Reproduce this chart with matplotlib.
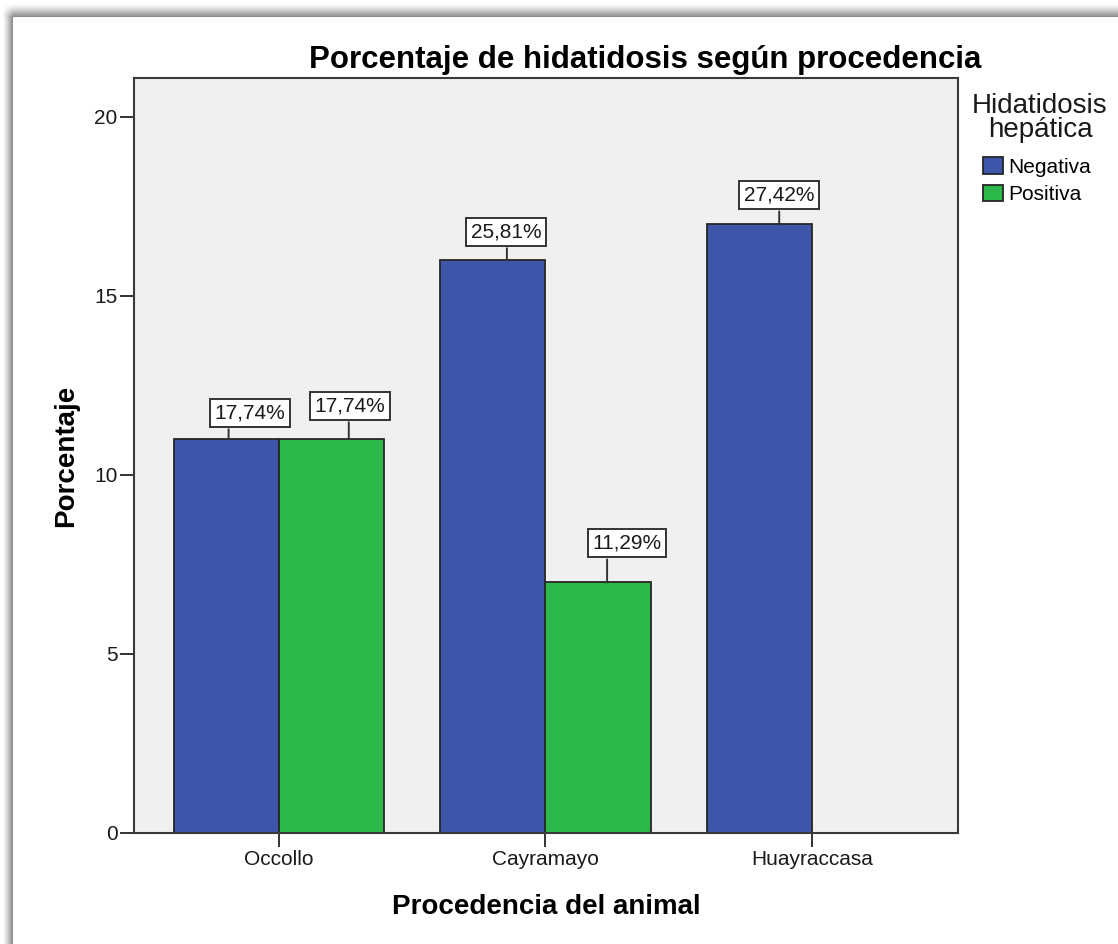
#Program to draw a grouped bar chart of hydatidosis by animal origin.
import numpy as np
import matplotlib.pyplot as plt
from matplotlib.patches import Patch

#Categories and counts for each liver result.
procedencias = ['Occollo', 'Cayramayo', 'Huayraccasa']
negativa = [11, 16, 17]
positiva = [11, 7, 0]
series_names = ['Negativa', 'Positiva']
y_ticks = [0, 5, 10, 15, 20]

#Label placement in pixels: line offset, box offset and box height above the bar.
label_line_dx = [[2, 17], [14, 9], [20, 0]]
label_box_dx = [[23, 18], [13, 29], [20, 0]]
label_box_dy = [26, 33, 28, 39, 29]

BLUE = '#3d56a9'
GREEN = '#2db84a'
EDGE = '#262626'


def shadow_background(width, height):
    """Grey blurred shadow along the top and left edges of the panel."""
    ys = np.arange(height)[:, None].astype(float)
    xs = np.arange(width)[None, :].astype(float)
    top = np.clip((ys - 3) / 14, 0, 1) ** 1.3 * (ys < 17) * np.clip((xs - 2) / 11, 0, 1)
    left = np.clip((xs - 2) / 11, 0, 1) ** 1.3 * (xs < 13) * np.clip((ys - 6) / 11, 0, 1)
    shade = np.maximum(top, left)
    return 1 - 0.5 * shade


def main():
    """Mainline logic for creating the bar chart."""
    plt.rcParams['font.family'] = ['Liberation Sans', 'DejaVu Sans']
    fig = plt.figure(figsize=(11.18, 9.44), dpi=100)

    #Shadowed frame behind the chart.
    bg = fig.add_axes([0, 0, 1, 1], zorder=-1)
    bg.imshow(shadow_background(1118, 944), cmap='gray', vmin=0, vmax=1,
              aspect='auto', interpolation='bilinear')
    bg.axis('off')

    ax = fig.add_axes([0.1199, 0.1176, 0.737, 0.7998])
    ax.set_facecolor('#f0f0f0')

    x = np.arange(len(procedencias))
    width = 0.395
    xmin, xmax = -0.545, 2.549
    px_per_unit = 824 / (xmax - xmin)
    total = sum(negativa) + sum(positiva)

    bars_neg = ax.bar(x - width / 2, negativa, width, color=BLUE,
                      edgecolor=EDGE, linewidth=1.3, zorder=2)
    bars_pos = ax.bar(x + width / 2, positiva, width, color=GREEN,
                      edgecolor=EDGE, linewidth=1.3, zorder=2)

    #Percentage labels with a short leader line down to each bar.
    k = 0
    for i in range(len(procedencias)):
        for j, bars in enumerate([bars_neg, bars_pos]):
            bar = bars[i]
            value = bar.get_height()
            if value == 0:
                continue
            pct = f'{value / total * 100:.2f}%'.replace('.', ',')
            bx = bar.get_x() + bar.get_width() / 2
            lx = bx + label_line_dx[i][j] / px_per_unit
            box_dx = label_box_dx[i][j] - label_line_dx[i][j]
            dy = label_box_dy[k]
            k += 1
            ax.annotate('', xy=(lx, value), xytext=(0, (dy - 16) * 0.72),
                        textcoords='offset points',
                        arrowprops=dict(arrowstyle='-', color='#333333', lw=1.4,
                                        shrinkA=0, shrinkB=0), zorder=3)
            ax.annotate(pct, xy=(lx, value), xytext=(box_dx * 0.72, dy * 0.72),
                        textcoords='offset points', ha='center', va='center',
                        fontsize=15, color='#1a1a1a', zorder=4,
                        bbox=dict(boxstyle='square,pad=0.22', fc='white',
                                  ec='#333333', lw=1.4))

    ax.set_xlim(xmin, xmax)
    ax.set_ylim(0, 21.09)
    ax.set_xticks(x)
    ax.set_xticklabels(procedencias)
    ax.set_yticks(y_ticks)
    ax.tick_params(axis='both', direction='out', length=10, width=1.4,
                   color='#333333', labelsize=15, labelcolor='#1a1a1a', pad=2)
    for spine in ax.spines.values():
        spine.set_color('#3a3a3a')
        spine.set_linewidth(1.5)

    #Titles and axis labels.
    fig.text(645 / 1118, 1 - 60 / 944, 'Porcentaje de hidatidosis según procedencia',
             ha='center', va='center', fontsize=22.5, fontweight='bold')
    ax.set_xlabel('Procedencia del animal', fontsize=20, fontweight='bold')
    ax.xaxis.set_label_coords(0.5, -(894 - 833) / 755)
    ax.set_ylabel('Porcentaje', fontsize=20, fontweight='bold')
    ax.yaxis.set_label_coords(-(134 - 79) / 824, 0.5)

    #Legend to the right of the plot, with its title set above the entries.
    fig.text(1040 / 1118, 1 - 118 / 944, 'Hidatidosis\nhepática',
             ha='center', va='center', fontsize=20, linespacing=0.9,
             color='#1a1a1a')
    handles = [Patch(facecolor=BLUE, edgecolor=EDGE, linewidth=1.3),
               Patch(facecolor=GREEN, edgecolor=EDGE, linewidth=1.3)]
    fig.legend(handles, series_names,
               loc='upper left', bbox_to_anchor=(983 / 1118, 1 - 157 / 944),
               frameon=False, fontsize=15,
               handlelength=0.95, handleheight=0.85, handletextpad=0.25,
               labelspacing=0.4, borderpad=0, borderaxespad=0)

    fig.savefig('out.png', dpi=100)


#Call the main function.
if __name__ == '__main__':
    main()
